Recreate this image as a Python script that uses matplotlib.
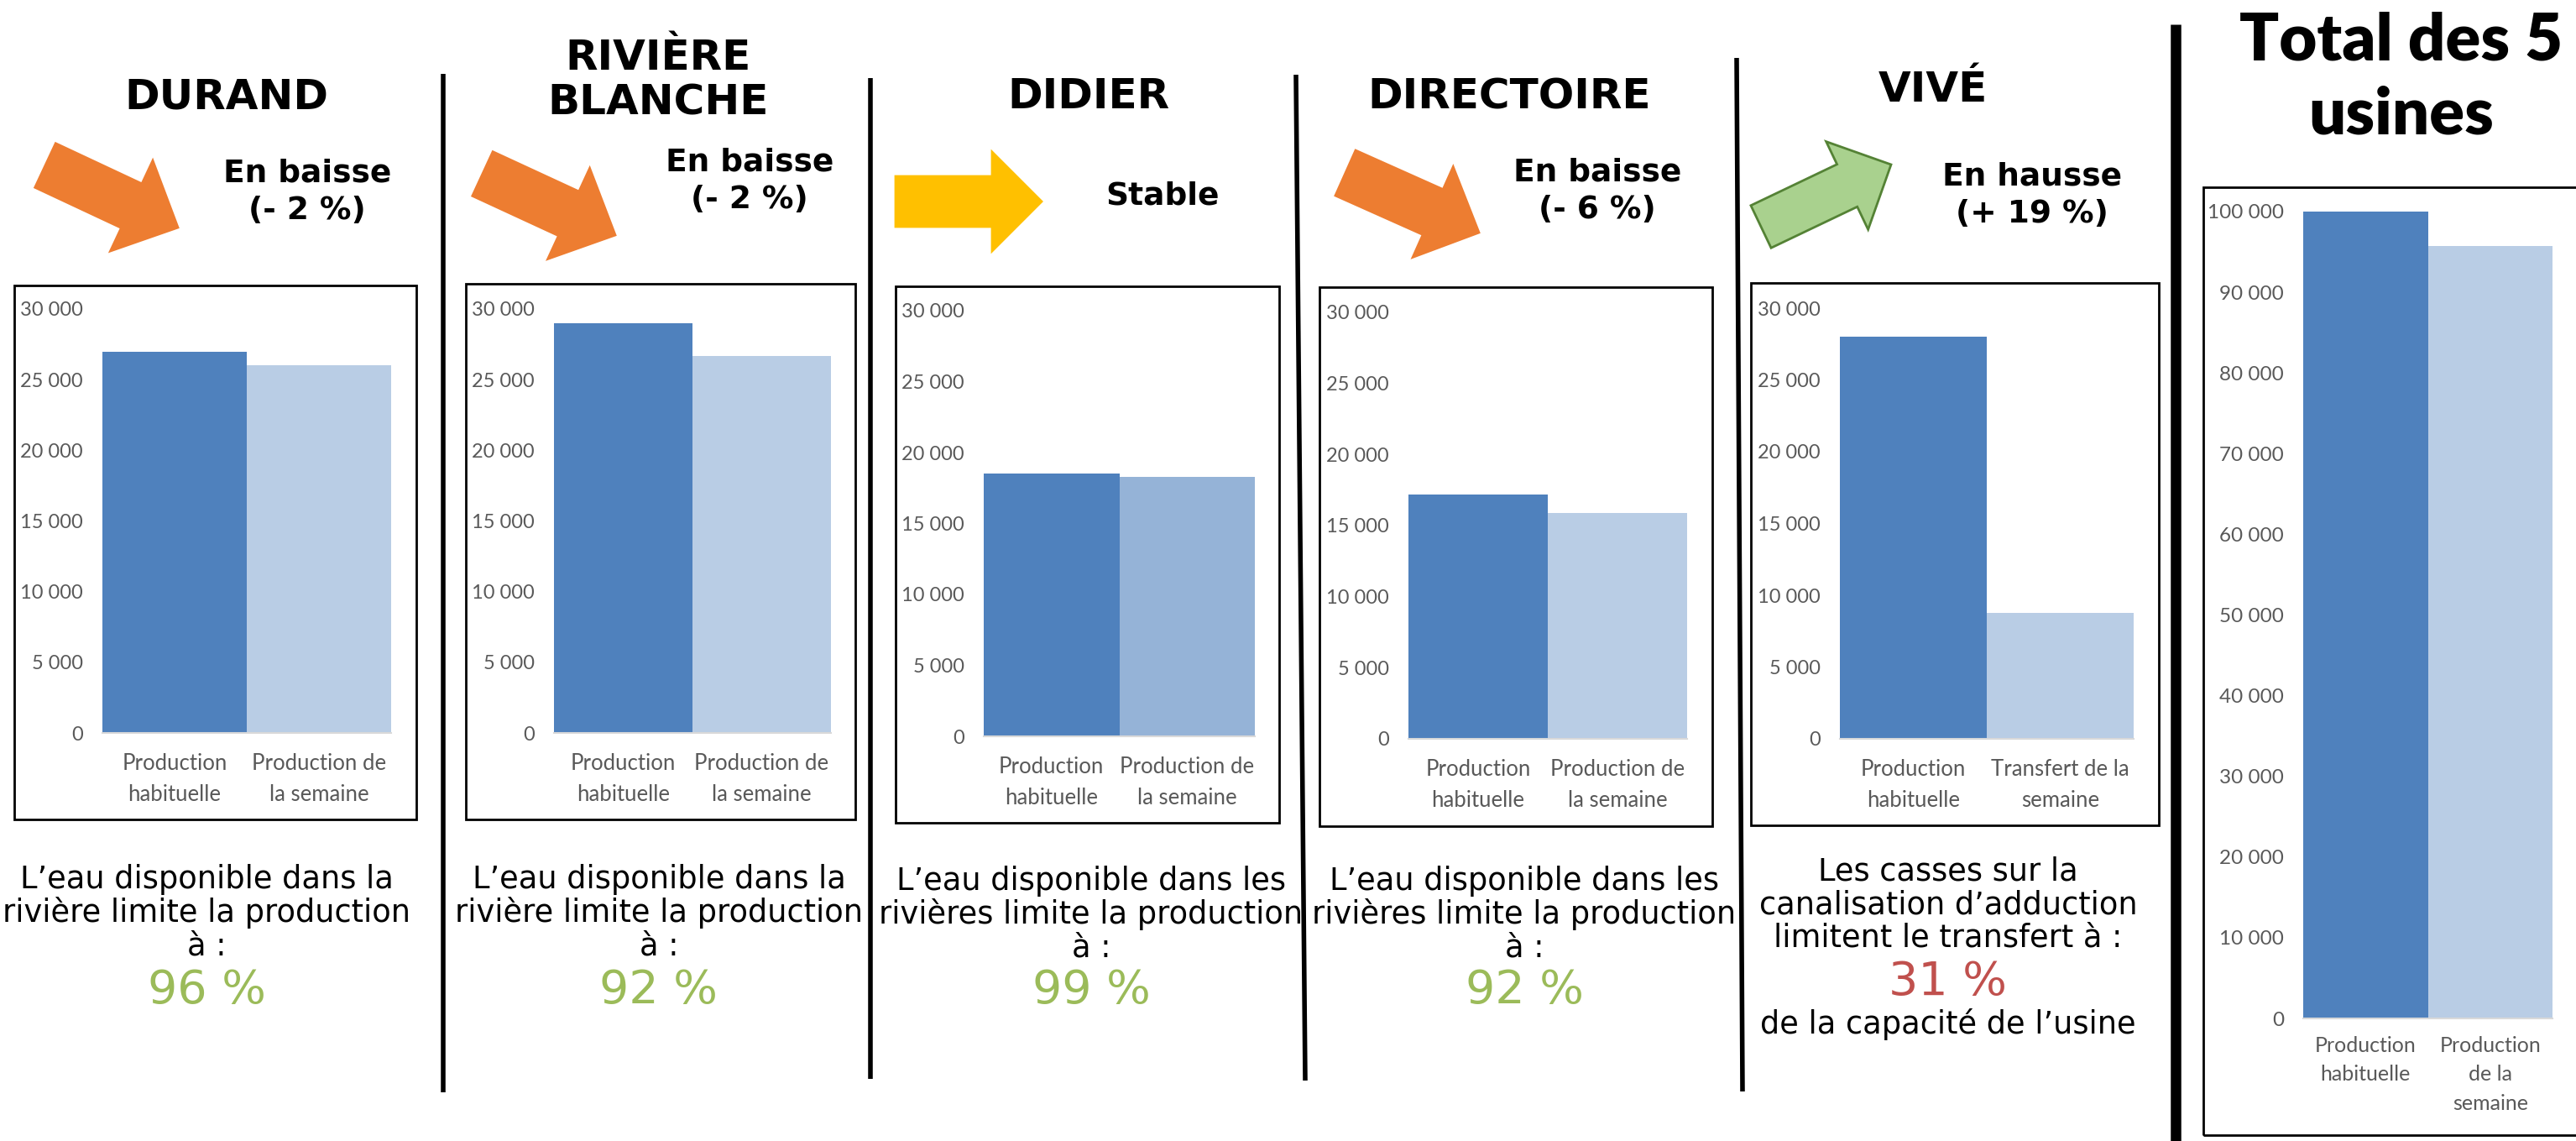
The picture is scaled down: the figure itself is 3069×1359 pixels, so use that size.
import matplotlib
matplotlib.use("Agg")
import matplotlib.pyplot as plt
from matplotlib.patches import Polygon, Rectangle
from matplotlib.lines import Line2D
from matplotlib.ticker import FuncFormatter
from matplotlib import font_manager as fm
import numpy as np

# ---------------- DATA ----------------
usines = ["DURAND", "RIVIÈRE\nBLANCHE", "DIDIER", "DIRECTOIRE", "VIVÉ"]
production_habituelle = [27000, 29000, 18500, 17200, 28000]
production_semaine = [26000, 26700, 18300, 15900, 8800]
categories = [
    ["Production\nhabituelle", "Production de\nla semaine"],
    ["Production\nhabituelle", "Production de\nla semaine"],
    ["Production\nhabituelle", "Production de\nla semaine"],
    ["Production\nhabituelle", "Production de\nla semaine"],
    ["Production\nhabituelle", "Transfert de la\nsemaine"],
]
tendances = ["En baisse\n(- 2 %)", "En baisse\n(- 2 %)", "Stable", "En baisse\n(- 6 %)", "En hausse\n(+ 19 %)"]
tendance_types = ["baisse", "baisse", "stable", "baisse", "hausse"]
ticks_usine = [0, 5000, 10000, 15000, 20000, 25000, 30000]
messages = [
    ["L’eau disponible dans la", "rivière limite la production", "à :"],
    ["L’eau disponible dans la", "rivière limite la production", "à :"],
    ["L’eau disponible dans les", "rivières limite la production", "à :"],
    ["L’eau disponible dans les", "rivières limite la production", "à :"],
    ["Les casses sur la", "canalisation d’adduction", "limitent le transfert à :"],
]
pourcentages = ["96 %", "92 %", "99 %", "92 %", "31 %"]
pourcentage_ok = [True, True, True, True, False]
message_fin = ["", "", "", "", "de la capacité de l’usine"]

total_titre = "Total des 5\nusines"
total_categories = ["Production\nhabituelle", "Production\nde la\nsemaine"]
total_valeurs = [100000, 95700]
ticks_total = [0, 10000, 20000, 30000, 40000, 50000, 60000, 70000, 80000, 90000, 100000]

# ---------------- STYLE / LAYOUT ----------------
W, H = 3069, 1359
DARK = "#4F81BD"
LIGHT = ["#B9CDE5", "#B9CDE5", "#95B3D7", "#B9CDE5", "#B9CDE5"]
TICK_C = "#595959"
ARROW_C = {"baisse": ("#ED7D31", "#ED7D31"), "stable": ("#FFC000", "#FFC000"),
           "hausse": ("#A9D18E", "#548235")}

avail = {f.name for f in fm.fontManager.ttflist}
CAL = "Lato" if "Lato" in avail else "DejaVu Sans"

boxes = [(17, 340, 496, 976), (555, 338, 1019, 976), (1067, 341, 1524, 980),
         (1572, 342, 2040, 984), (2086, 337, 2572, 983)]
plots = [(122, 466, 873, 368), (660, 990, 873, 368), (1172, 1495, 877, 370),
         (1678, 2010, 880, 372), (2192, 2542, 880, 367)]
title_pos = [(270, 115), (784, 96), (1297, 115), (1798, 115), (2303, 107)]
tend_pos = [(366, 229), (893, 216), (1385, 233), (1903, 228), (2421, 233)]
arrows = [((54, 197), (212, 271), 58, 119, 61),
          ((575, 207), (733, 280), 58, 119, 61),
          ((1067, 240), (1241, 240), 60, 118, 59),
          ((1603, 206), (1762, 277), 59, 118, 60),
          ((2098, 270), (2253, 196), 56, 116, 58)]
msg_x = [246, 785, 1300, 1816, 2321]
msg_y = [[1047, 1087, 1127, 1180], [1047, 1087, 1127, 1180], [1050, 1089, 1129, 1180],
         [1050, 1089, 1129, 1180], [1038, 1078, 1117, 1170, 1220]]
separators = [((528, 88), (528, 1301), 4.0), ((1037, 93), (1037, 1285), 4.0),
              ((1544, 89), (1555, 1287), 4.0), ((2069, 69), (2076, 1300), 4.0),
              ((2592, 29), (2592, 1359), 9.0)]

fig = plt.figure(figsize=(W / 100, H / 100), dpi=100)
fig.patch.set_facecolor("white")


def fx(x):
    return x / W


def fy(y):
    return 1 - y / H


def txt(x, y, s, **kw):
    kw.setdefault("ha", "center")
    kw.setdefault("va", "center")
    fig.text(fx(x), fy(y), s, **kw)


def block_arrow(tail, tip, w, hw, hl, fc, ec):
    T = np.array(tail, float)
    P = np.array(tip, float)
    d = (P - T) / np.linalg.norm(P - T)
    n = np.array([-d[1], d[0]])
    B = P - hl * d
    pts = [T + n * w / 2, B + n * w / 2, B + n * hw / 2, P, B - n * hw / 2,
           B - n * w / 2, T - n * w / 2]
    pts = [(fx(p[0]), fy(p[1])) for p in pts]
    fig.add_artist(Polygon(pts, closed=True, facecolor=fc, edgecolor=ec, lw=2,
                           transform=fig.transFigure, zorder=3))


fmt = FuncFormatter(lambda v, p: f"{int(v):,}".replace(",", " "))


def bar_panel(box, plot, vals, cats, colors, ticks, tsize, csize, lsp, cpad, ymax):
    x0, y0, x1, y1 = box
    fig.add_artist(Rectangle((fx(x0), fy(y1)), fx(x1) - fx(x0), fy(y0) - fy(y1),
                             fill=False, edgecolor="black", lw=2,
                             transform=fig.transFigure, zorder=2))
    px0, px1, pz, ptop = plot
    ax = fig.add_axes([fx(px0), fy(pz), fx(px1) - fx(px0), fy(ptop) - fy(pz)])
    ax.set_facecolor("none")
    ax.bar([0, 1], vals, width=1.0, color=colors, zorder=2)
    ax.set_xlim(-0.5, 1.5)
    ax.set_ylim(0, ymax)
    ax.set_yticks(ticks)
    ax.yaxis.set_major_formatter(fmt)
    ax.set_xticks([0, 1])
    ax.set_xticklabels(cats, linespacing=lsp)
    for s in ["top", "right", "left"]:
        ax.spines[s].set_visible(False)
    ax.spines["bottom"].set_color("#D9D9D9")
    ax.spines["bottom"].set_linewidth(1.5)
    ax.tick_params(axis="both", length=0, colors=TICK_C)
    ax.tick_params(axis="y", pad=16.5, labelsize=tsize)
    ax.tick_params(axis="x", pad=cpad, labelsize=csize)
    for lab in ax.get_yticklabels():
        lab.set_fontfamily(CAL)
    for lab in ax.get_xticklabels():
        lab.set_fontfamily(CAL)
        lab.set_va("top")
    return ax


# ---------------- PANELS ----------------
for i in range(5):
    bar_panel(boxes[i], plots[i], [production_habituelle[i], production_semaine[i]],
              categories[i], [DARK, LIGHT[i]], ticks_usine, 17, 18.5, 1.6, 17, 30000)
    txt(*title_pos[i], usines[i], fontsize=36, fontweight="bold", family="DejaVu Sans",
        linespacing=1.15)
    txt(*tend_pos[i], tendances[i], fontsize=27, fontweight="bold", family="DejaVu Sans",
        linespacing=1.3, ma="center")
    tail, tip, w, hw, hl = arrows[i]
    fc, ec = ARROW_C[tendance_types[i]]
    block_arrow(tail, tip, w, hw, hl, fc, ec)
    ys = msg_y[i]
    for line, y in zip(messages[i], ys[:3]):
        txt(msg_x[i], y, line, fontsize=26.5, family="DejaVu Sans")
    txt(msg_x[i], ys[3], pourcentages[i], fontsize=40, family="DejaVu Sans",
        color="#9BBB59" if pourcentage_ok[i] else "#C0504D")
    if message_fin[i]:
        txt(msg_x[i], ys[4], message_fin[i], fontsize=26.5, family="DejaVu Sans")

# separators
for (xa, ya), (xb, yb), lw in separators:
    fig.add_artist(Line2D([fx(xa), fx(xb)], [fy(ya), fy(yb)], color="black", lw=lw,
                          transform=fig.transFigure, solid_capstyle="butt"))

# total panel
bar_panel((2625, 223, 3085, 1352), (2744, 3041, 1213, 252), total_valeurs, total_categories,
          [DARK, "#B9CDE5"], ticks_total, 17.5, 18, 1.6, 15, 100000)
txt(2861, 93, total_titre, fontsize=56, fontweight="heavy", family=CAL, linespacing=1.3)

fig.savefig("out.png", dpi=100, facecolor="white")
